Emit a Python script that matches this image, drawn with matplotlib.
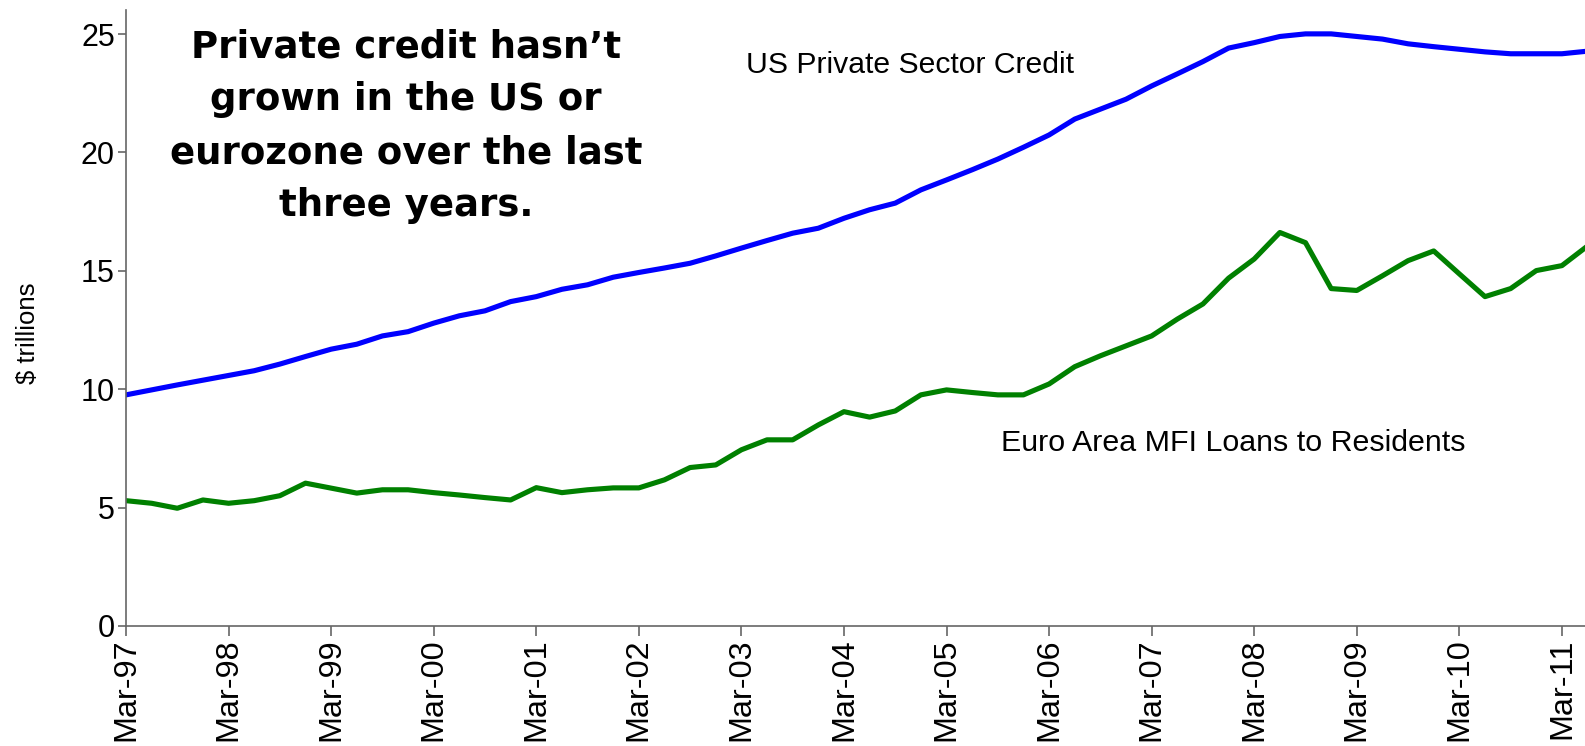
import matplotlib
matplotlib.use("Agg")
import matplotlib.pyplot as plt
import numpy as np

# quarterly, Mar-97 .. Jun-11, $ trillions
us_credit = [
    9.76, 9.97, 10.18, 10.38, 10.58, 10.78, 11.06, 11.38,
    11.69, 11.90, 12.25, 12.43, 12.79, 13.10, 13.31, 13.70,
    13.91, 14.22, 14.41, 14.73, 14.93, 15.12, 15.32, 15.63,
    15.96, 16.28, 16.59, 16.80, 17.22, 17.58, 17.86, 18.42,
    18.84, 19.27, 19.72, 20.22, 20.74, 21.41, 21.83, 22.25,
    22.81, 23.32, 23.84, 24.41, 24.64, 24.90, 25.01, 25.01,
    24.90, 24.79, 24.59, 24.47, 24.36, 24.25, 24.17, 24.17,
    24.17, 24.28,
]
euro_loans = [
    5.29, 5.18, 4.97, 5.32, 5.18, 5.29, 5.50, 6.03,
    5.82, 5.61, 5.75, 5.75, 5.63, 5.53, 5.42, 5.32,
    5.84, 5.63, 5.75, 5.83, 5.83, 6.17, 6.69, 6.80,
    7.44, 7.86, 7.86, 8.49, 9.05, 8.82, 9.08, 9.76,
    9.97, 9.86, 9.76, 9.76, 10.22, 10.95, 11.41, 11.83,
    12.25, 12.96, 13.60, 14.69, 15.50, 16.62, 16.19, 14.25,
    14.17, 14.79, 15.43, 15.84, 14.87, 13.91, 14.25, 15.01,
    15.22, 16.05,
]
year_labels = ["Mar-97", "Mar-98", "Mar-99", "Mar-00", "Mar-01", "Mar-02", "Mar-03",
               "Mar-04", "Mar-05", "Mar-06", "Mar-07", "Mar-08", "Mar-09", "Mar-10", "Mar-11"]
y_ticks = [0, 5, 10, 15, 20, 25]

quarters = np.arange(len(us_credit))

plt.rcParams['font.family'] = ['Liberation Sans', 'DejaVu Sans']

fig = plt.figure(figsize=(15.85, 7.46), dpi=100)
ax = fig.add_axes([0.0795, 0.161, 0.9205, 0.825])

ax.plot(quarters, us_credit, color='#0000ff', lw=3.7, solid_joinstyle='round')
ax.plot(quarters, euro_loans, color='#008000', lw=3.7, solid_joinstyle='round')

ax.set_xlim(0, 56.9)
ax.set_ylim(0, 26)
ax.set_yticks(y_ticks)
ax.set_xticks(quarters[::4])
ax.set_xticklabels(year_labels, rotation=90, fontsize=23.3)
ax.tick_params(axis='y', labelsize=22, length=6, width=1.2, color='#666666', pad=2)
ax.tick_params(axis='x', length=7, width=1.2, color='#666666', pad=2)

for side in ['top', 'right']:
    ax.spines[side].set_visible(False)
for side in ['left', 'bottom']:
    ax.spines[side].set_color('#666666')
    ax.spines[side].set_linewidth(1.2)

ax.set_ylabel('$ trillions', fontsize=18.5, va='center')
ax.yaxis.set_label_coords(-0.067, 0.476)

ax.text(0.425, 0.912, 'US Private Sector Credit', transform=ax.transAxes,
        fontsize=21.7, va='center', ha='left')
ax.text(0.6, 0.297, 'Euro Area MFI Loans to Residents', transform=ax.transAxes,
        fontsize=21.9, va='center', ha='left')

fig.text(0.256, 0.831,
         "Private credit hasn\u2019t\ngrown in the US or\neurozone over the last\nthree years.",
         family=['DejaVu Sans'], fontweight='bold', fontsize=26.7,
         ha='center', va='center', linespacing=1.55)

fig.savefig('out.png', dpi=100)
